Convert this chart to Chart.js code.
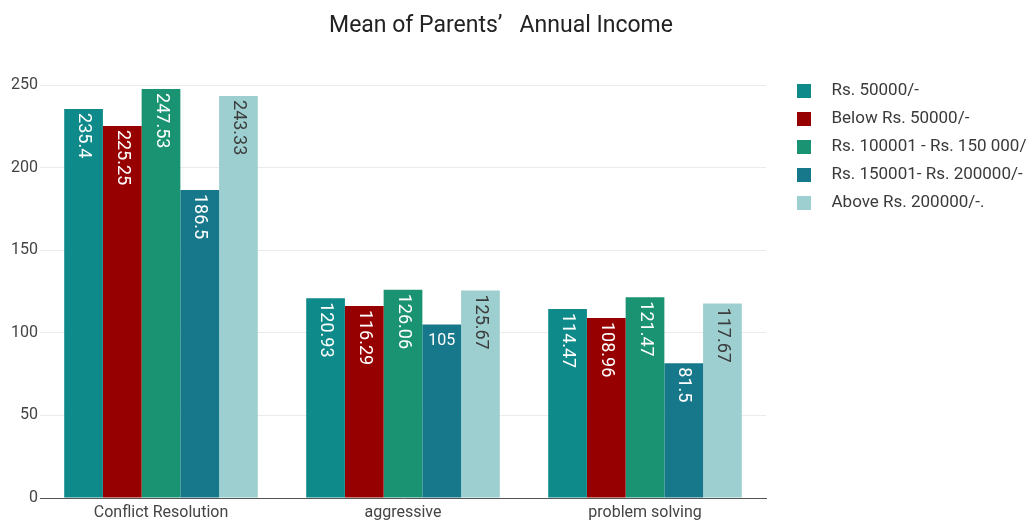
<!DOCTYPE html>
<html><head><meta charset="utf-8">
<script src="https://cdn.jsdelivr.net/npm/chart.js@4/dist/chart.umd.min.js"></script>
<style>html,body{margin:0;padding:0;background:#fff}#wrap{width:1028px;height:523px;position:relative}</style>
</head><body><div id="wrap"><canvas id="c"></canvas></div>
<script>
const titleText = 'Mean of Parents\u2019   Annual Income';
const categories = ['Conflict Resolution', 'aggressive', 'problem solving'];
const seriesNames = ['Rs. 50000/-', 'Below Rs. 50000/-', 'Rs. 100001 - Rs. 150 000/', 'Rs. 150001- Rs. 200000/-', 'Above Rs. 200000/-.'];
const rs50000 = [235.4, 120.93, 114.47];
const belowRs50000 = [225.25, 116.29, 108.96];
const rs100001to150000 = [247.53, 126.06, 121.47];
const rs150001to200000 = [186.5, 105, 81.5];
const aboveRs200000 = [243.33, 125.67, 117.67];
const yTicks = [0, 50, 100, 150, 200, 250];

const seriesValues = [rs50000, belowRs50000, rs100001to150000, rs150001to200000, aboveRs200000];
const colors = ['#0f8a8a', '#960000', '#1a9372', '#18788b', '#9dcfd0'];
const labelColors = ['#ffffff', '#ffffff', '#ffffff', '#ffffff', '#3c3c3c'];
const FAMILY = 'Roboto, "Liberation Sans", Arial, sans-serif';

Chart.defaults.font.family = FAMILY;

// legend swatches: square plus gap before the text
const swatches = colors.map(c => {
  const cv = document.createElement('canvas');
  cv.width = 26; cv.height = 14;
  const g = cv.getContext('2d');
  g.fillStyle = c; g.fillRect(0, 0, 14, 14);
  return cv;
});

const layoutTweaks = {
  id: 'layoutTweaks',
  afterInit(chart) {
    const lg = chart.legend;
    const f = lg.fit;
    lg.fit = function () { f.call(this); this.width = 262; };
  },
  afterLayout(chart) {
    const lg = chart.legend;
    lg.left = 786; lg.right = lg.left + lg.width;
    lg.top = 71;
    const t = chart.titleBlock;
    if (t) { t.left -= 13; t.right -= 13; }
  }
};

const valueLabels = {
  id: 'valueLabels',
  afterDatasetsDraw(chart) {
    const ctx = chart.ctx;
    chart.data.datasets.forEach((ds, di) => {
      const meta = chart.getDatasetMeta(di);
      meta.data.forEach((bar, i) => {
        const txt = String(ds.data[i]);
        const p = bar.getProps(['x', 'y', 'width'], true);
        ctx.save();
        ctx.fillStyle = labelColors[di];
        ctx.font = '16px ' + FAMILY;
        const w = ctx.measureText(txt).width;
        if (w <= p.width * 0.75) {
          ctx.textAlign = 'center'; ctx.textBaseline = 'top';
          ctx.fillText(txt, p.x, p.y + 8);
        } else {
          ctx.font = '18px ' + FAMILY;
          ctx.translate(p.x, p.y + 4);
          ctx.rotate(Math.PI / 2);
          ctx.textAlign = 'left'; ctx.textBaseline = 'middle';
          ctx.fillText(txt, 0, 0);
        }
        ctx.restore();
      });
    });
  }
};

new Chart(document.getElementById('c'), {
  type: 'bar',
  data: {
    labels: categories,
    datasets: seriesNames.map((n, i) => ({
      label: n,
      data: seriesValues[i],
      backgroundColor: colors[i],
      borderWidth: 0,
      barPercentage: 1,
      categoryPercentage: 0.8
    }))
  },
  options: {
    responsive: true,
    maintainAspectRatio: false,
    animation: false,
    layout: { padding: 0 },
    plugins: {
      title: {
        display: true,
        text: titleText,
        color: '#222222',
        font: { size: 23, weight: 'normal' },
        padding: { top: 12.5, bottom: 44.9 }
      },
      legend: {
        position: 'right',
        align: 'start',
        labels: {
          usePointStyle: true,
          pointStyleWidth: 26,
          color: '#3a3a3a',
          font: { size: 17 },
          padding: 11,
          generateLabels(chart) {
            const items = Chart.defaults.plugins.legend.labels.generateLabels(chart);
            items.forEach((it, i) => { it.pointStyle = swatches[i]; it.lineWidth = 0; });
            return items;
          }
        }
      },
      tooltip: { enabled: false }
    },
    scales: {
      x: {
        grid: { display: false, drawTicks: false },
        border: { display: true, color: '#555555', width: 1 },
        ticks: { color: '#444444', font: { size: 16 }, padding: 5, maxRotation: 0 },
        afterFit(s) { s.height = 25; }
      },
      y: {
        min: 0,
        max: yTicks[yTicks.length - 1],
        afterBuildTicks(s) { s.ticks = yTicks.map(v => ({ value: v })); },
        grid: { color: '#ebebeb', drawTicks: false },
        border: { display: false },
        ticks: { color: '#444444', font: { size: 16 }, padding: 2 },
        afterFit(s) { s.width = 40; }
      }
    }
  },
  plugins: [layoutTweaks, valueLabels]
});
</script>
</body></html>
